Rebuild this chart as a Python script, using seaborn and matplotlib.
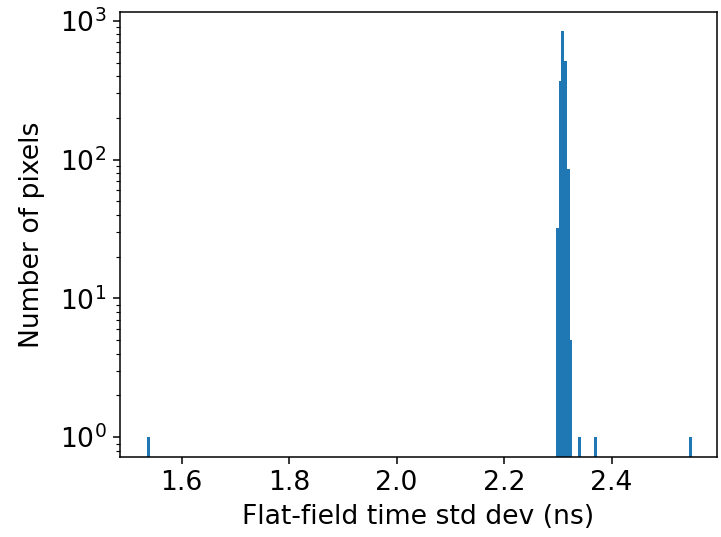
import matplotlib
matplotlib.use("Agg")
import matplotlib.pyplot as plt
import pandas as pd
import seaborn as sns

# flat-field time std dev per pixel (ns), grouped: value -> number of pixels
std_dev_ns = [1.5385, 2.2990, 2.3041, 2.3092, 2.3142, 2.3193, 2.3244, 2.3396, 2.3700, 2.5475]
n_pixels = [1, 32, 370, 850, 510, 85, 5, 1, 1, 1]

N_BINS = 200
BIN_RANGE = (1.536, 2.550)

df = pd.DataFrame({"std": std_dev_ns, "count": n_pixels})

DPI = 137
fig, ax = plt.subplots(figsize=(722 / DPI, 537 / DPI), dpi=DPI)
fig.subplots_adjust(left=0.166, right=0.993, top=0.978, bottom=0.149)

sns.histplot(data=df, x="std", weights="count", bins=N_BINS, binrange=BIN_RANGE,
             color="#1f77b4", alpha=1, linewidth=0, ax=ax)
ax.set_yscale("log")
ax.set_ylim(0.72, 1160)
ax.set_xlim(1.485, 2.596)

ax.set_xlabel("Flat-field time std dev (ns)", fontsize=14)
ax.set_ylabel("Number of pixels", fontsize=14, labelpad=7.5)
ax.tick_params(axis="both", which="major", labelsize=14)

fig.savefig("out.png", dpi=DPI)
